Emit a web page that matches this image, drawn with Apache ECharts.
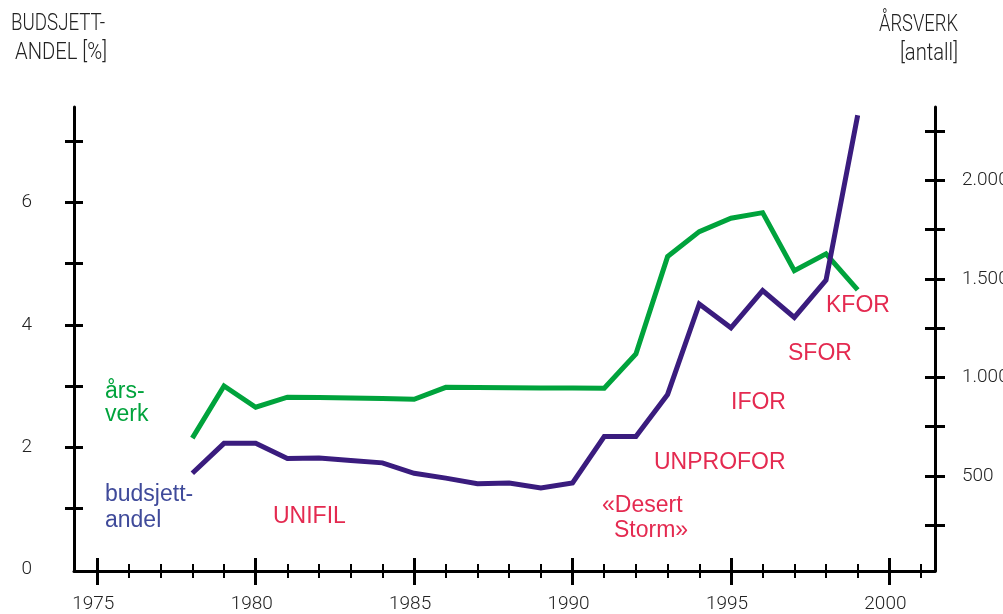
<!DOCTYPE html>
<html>
<head>
<meta charset="utf-8">
<script src="https://cdn.jsdelivr.net/npm/echarts@6/dist/echarts.min.js"></script>
<style>html,body{margin:0;padding:0;background:#fff;overflow:hidden;}#c{width:1003px;height:614px;}</style>
</head>
<body>
<div id="c"></div>
<script>
// ---- data ----
const years = [1978,1979,1980,1981,1982,1983,1984,1985,1986,1987,1988,1989,1990,1991,1992,1993,1994,1995,1996,1997,1998,1999];
const budsjettAndel = [1.57,2.06,2.06,1.81,1.82,1.78,1.74,1.57,1.49,1.40,1.41,1.33,1.41,2.17,2.17,2.86,4.34,3.95,4.56,4.12,4.73,7.43];
const arsverk = [692,957,849,900,898,896,893,889,950,949,948,947,946,945,1119,1613,1740,1808,1836,1542,1627,1444];
const xMajorTicks = [1975,1980,1985,1990,1995,2000];
const xMinorTicks = [1976,1977,1978,1979,1981,1982,1983,1984,1986,1987,1988,1989,1991,1992,1993,1994,1996,1997,1998,1999,2001];
const leftTicks = [1,2,3,4,5,6,7];
const leftLabels = [0,2,4,6];
const rightTicks = [250,500,750,1000,1250,1500,1750,2000,2250];
const rightLabels = [500,1000,1500,2000];

const GREEN = '#00a33c', PURPLE = '#3a1c7e', RED = '#e42a50', BLUE = '#3f4a9a';
const LIGHT = 'Roboto, "Liberation Sans", sans-serif';
const SANS = '"Liberation Sans", Arial, Helvetica, sans-serif';

const XMIN = 1974.265, XMAX = 2001.44;
function xAx(ticks, len, inside, width, showLine, showLabel) {
  return {
    type: 'value', position: 'bottom', min: XMIN, max: XMAX,
    splitLine: {show: false},
    axisLine: {show: showLine, onZero: false, lineStyle: {color: '#000', width: 3}},
    axisTick: {show: true, inside: inside, length: len, customValues: ticks, lineStyle: {color: '#000', width: width}},
    axisLabel: {show: showLabel, customValues: xMajorTicks, margin: 24, padding: [0, 8, 0, 0],
      fontFamily: LIGHT, fontWeight: 300, fontSize: 19, color: '#222', formatter: v => String(v)}
  };
}
function yAx(pos, min, max, ticks, labels, len, inside, showLine, showLabel, margin, fmt) {
  return {
    type: 'value', position: pos, min: min, max: max,
    splitLine: {show: false},
    axisLine: {show: showLine, onZero: false, lineStyle: {color: '#000', width: 3}},
    axisTick: {show: true, inside: inside, length: len, customValues: ticks, lineStyle: {color: '#000', width: 3}},
    axisLabel: {show: showLabel, customValues: labels, margin: margin,
      fontFamily: LIGHT, fontWeight: 300, fontSize: 19, color: '#222', formatter: fmt}
  };
}
const thousands = v => v >= 1000 ? Math.floor(v/1000) + '.' + String(v % 1000).padStart(3, '0') : String(v);

// condensed title text: scale horizontally to the measured target width
const mctx = document.createElement('canvas').getContext('2d');
function condensed(text, x, y, width, align) {
  const font = '300 24px ' + LIGHT;
  mctx.font = font;
  const w = mctx.measureText(text).width;
  const s = width / w;
  return {type: 'text', x: x, y: y, scaleX: s, originX: 0, originY: 0,
    style: {text: text, font: font, fill: '#222', align: align, verticalAlign: 'middle'}};
}

const chart = echarts.init(document.getElementById('c'), null, {renderer: 'canvas'});
chart.setOption({
  animation: false,
  backgroundColor: '#fff',
  grid: {left: 74, right: 68, top: 107, bottom: 43, containLabel: false, outerBoundsMode: 'none'},
  xAxis: [
    xAx(xMajorTicks, 14, false, 3, true, true),
    xAx(xMajorTicks, 13, true, 3, false, false),
    xAx(xMinorTicks, 7, false, 2, false, false),
    xAx(xMinorTicks, 7, true, 2, false, false)
  ],
  yAxis: [
    yAx('left', -0.03, 7.565, leftTicks, leftLabels, 9, false, true, true, 42, v => String(v)),
    yAx('right', 18, 2372, rightTicks, rightLabels, 10, false, true, true, 27, thousands),
    yAx('left', -0.03, 7.565, leftTicks, leftLabels, 9, true, false, false, 42, v => String(v)),
    yAx('right', 18, 2372, rightTicks, rightLabels, 10, true, false, false, 27, thousands)
  ],
  series: [
    {type: 'line', name: 'årsverk', xAxisIndex: 0, yAxisIndex: 1, symbol: 'none',
     data: years.map((y, i) => [y, arsverk[i]]),
     lineStyle: {color: GREEN, width: 5, cap: 'butt', join: 'miter'}},
    {type: 'line', name: 'budsjettandel', xAxisIndex: 0, yAxisIndex: 0, symbol: 'none',
     data: years.map((y, i) => [y, budsjettAndel[i]]),
     lineStyle: {color: PURPLE, width: 5, cap: 'butt', join: 'miter'}}
  ],
  graphic: [
    condensed('BUDSJETT-', 11, 24, 94, 'left'),
    condensed('ANDEL [%]', 15, 53, 92, 'left'),
    condensed('ÅRSVERK', 958, 25, 79, 'right'),
    condensed('[antall]', 958, 54, 58, 'right'),
    {type: 'text', x: 105, y: 392, style: {text: 'års-', font: '23px ' + SANS, fill: GREEN, align: 'left', verticalAlign: 'middle'}},
    {type: 'text', x: 105, y: 415, style: {text: 'verk', font: '23px ' + SANS, fill: GREEN, align: 'left', verticalAlign: 'middle'}},
    {type: 'text', x: 105, y: 495, style: {text: 'budsjett-', font: '23px ' + SANS, fill: BLUE, align: 'left', verticalAlign: 'middle'}},
    {type: 'text', x: 105, y: 521, style: {text: 'andel', font: '23px ' + SANS, fill: BLUE, align: 'left', verticalAlign: 'middle'}},
    {type: 'text', x: 273, y: 517, style: {text: 'UNIFIL', font: '23px ' + SANS, fill: RED, align: 'left', verticalAlign: 'middle'}},
    {type: 'text', x: 602, y: 506, style: {text: '«Desert', font: '23px ' + SANS, fill: RED, align: 'left', verticalAlign: 'middle'}},
    {type: 'text', x: 614, y: 531, style: {text: 'Storm»', font: '23px ' + SANS, fill: RED, align: 'left', verticalAlign: 'middle'}},
    {type: 'text', x: 654, y: 463, style: {text: 'UNPROFOR', font: '23px ' + SANS, fill: RED, align: 'left', verticalAlign: 'middle'}},
    {type: 'text', x: 731, y: 403, style: {text: 'IFOR', font: '23px ' + SANS, fill: RED, align: 'left', verticalAlign: 'middle'}},
    {type: 'text', x: 788, y: 354, style: {text: 'SFOR', font: '23px ' + SANS, fill: RED, align: 'left', verticalAlign: 'middle'}},
    {type: 'text', x: 826, y: 306, style: {text: 'KFOR', font: '23px ' + SANS, fill: RED, align: 'left', verticalAlign: 'middle'}}
  ]
});
</script>
</body>
</html>
